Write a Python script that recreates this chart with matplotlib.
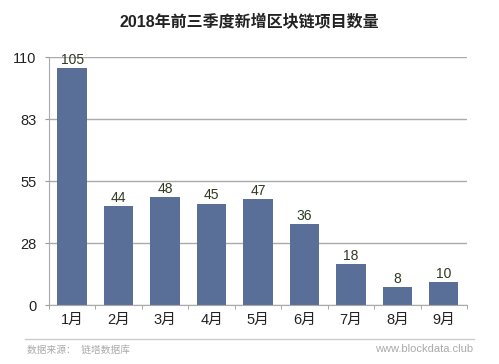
import matplotlib.pyplot as plt
import numpy as np

plt.rcParams['font.family'] = ['Liberation Sans', 'Noto Sans CJK SC', 'DejaVu Sans']

meses = ['1月', '2月', '3月', '4月', '5月', '6月', '7月', '8月', '9月']
proyectos = [105, 44, 48, 45, 47, 36, 18, 8, 10]
ticks_y = [0, 27.5, 55, 82.5, 110]
etiquetas_y = ['0', '28', '55', '83', '110']

fig = plt.figure(figsize=(4.99, 3.64), dpi=100)
ax = fig.add_axes([0.098, 0.162, 0.838, 0.681])

x = np.arange(len(meses))
ax.bar(x, proyectos, width=0.63, color='#5a6f98', zorder=2)
for xi, v in zip(x, proyectos):
    ax.text(xi, v + 0.6, str(v), ha='center', va='bottom', fontsize=10, color='#2e3a22')

ax.set_xlim(-0.5, len(meses) - 0.5)
ax.set_ylim(0, 110)
ax.set_yticks(ticks_y)
ax.set_yticklabels(etiquetas_y, fontsize=10.5, color='#222222')
ax.set_xticks(x)
ax.set_xticklabels(meses, fontsize=10.5, color='#222222')
ax.set_xticks(np.arange(-0.5, len(meses)), minor=True)
ax.tick_params(axis='x', which='major', length=0, pad=6)
ax.tick_params(axis='x', which='minor', length=3, color='#999999')
ax.tick_params(axis='y', length=3, color='#999999', pad=6)
ax.yaxis.grid(True, color='#aaaaaa', linewidth=1, zorder=0)
ax.set_axisbelow(True)
for s in ['top', 'right']:
    ax.spines[s].set_visible(False)
for s in ['left', 'bottom']:
    ax.spines[s].set_color('#aaaaaa')

fig.text(0.5, 0.94, '2018年前三季度新增区块链项目数量', ha='center', va='center',
         fontsize=11.5, fontweight='bold', color='#222222')

# pie de figura
fig.add_artist(plt.Line2D([0.05, 0.95], [0.068, 0.068], color='#cccccc', linewidth=1))
fig.text(0.055, 0.04, '数据来源：  链塔数据库', ha='left', va='center', fontsize=7, color='#aaaaaa')
fig.text(0.948, 0.04, 'www.blockdata.club', ha='right', va='center', fontsize=8, color='#aaaaaa')

fig.savefig('out.png', dpi=100)
